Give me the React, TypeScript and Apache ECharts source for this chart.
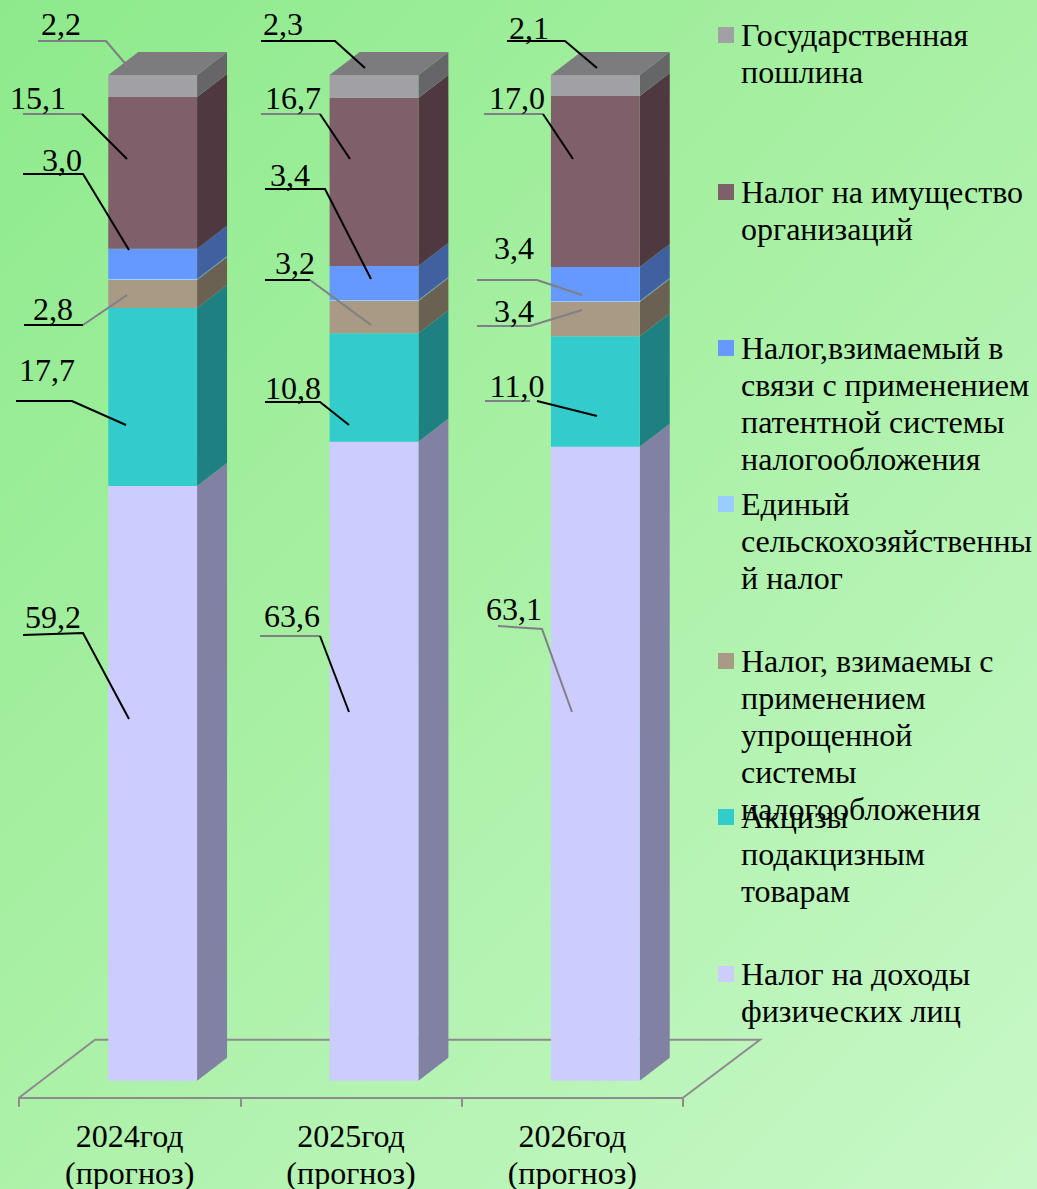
import React, { useEffect, useRef } from "react";
import * as echarts from "echarts";

const FONT = '"Liberation Serif", "Times New Roman", serif';
const FONT_SIZE = 32;
const LINE = 37;

const categories = ["2024год\n(прогноз)", "2025год\n(прогноз)", "2026год\n(прогноз)"];

// Stack order: bottom to top
const ndfl = [59.2, 63.6, 63.1];
const akcizy = [17.7, 10.8, 11.0];
const usn = [2.8, 3.2, 3.4];
const eshn = [0.1, 0.1, 0.1];
const patent = [3.0, 3.4, 3.4];
const imushchestvo = [15.1, 16.7, 17.0];
const poshlina = [2.2, 2.3, 2.1];

const stackSeries = [
  { name: "Налог на доходы физических лиц", lines: ["Налог на доходы", "физических лиц"], values: ndfl, front: "#CCCCFF", side: "#8181A3", legendY: 975 },
  { name: "Акцизы подакцизным товарам", lines: ["Акцизы", "подакцизным", "товарам"], values: akcizy, front: "#33CCCC", side: "#1E8080", legendY: 818 },
  { name: "Налог, взимаемы с применением упрощенной системы налогообложения", lines: ["Налог, взимаемы с", "применением", "упрощенной", "системы", "налогообложения"], values: usn, front: "#A89A85", side: "#6A6153", legendY: 662 },
  { name: "Единый сельскохозяйственный налог", lines: ["Единый", "сельскохозяйственны", "й налог"], values: eshn, front: "#99CCFF", side: "#6A8FC0", legendY: 505 },
  { name: "Налог,взимаемый в связи с применением патентной системы налогообложения", lines: ["Налог,взимаемый в", "связи с применением", "патентной системы", "налогообложения"], values: patent, front: "#6699FF", side: "#4060A0", legendY: 349 },
  { name: "Налог на имущество организаций", lines: ["Налог на имущество", "организаций"], values: imushchestvo, front: "#7F5F6A", side: "#503840", legendY: 193 },
  { name: "Государственная пошлина", lines: ["Государственная", "пошлина"], values: poshlina, front: "#A0A0A5", side: "#666668", legendY: 36 },
];

const TOP_FACE = "#7C7C7E";
const BK = "#000000";
const GR = "#7F7F86";

// Leader annotations: [stack index, category index, text centre x, text centre y, segments]
type Seg = { c: string; p: number[][] };
const leaders: [number, number, number, number, Seg[]][] = [
  [6, 0, 61, 24, [{ c: GR, p: [[38, 41], [106, 41], [129, 68]] }]],
  [5, 0, 38, 98, [{ c: GR, p: [[23, 114], [82, 114]] }, { c: BK, p: [[82, 114], [127, 159]] }]],
  [4, 0, 62, 160, [{ c: BK, p: [[23, 174], [83, 174], [129, 250]] }]],
  [2, 0, 53, 309, [{ c: BK, p: [[24, 325], [83, 325]] }, { c: GR, p: [[83, 325], [127, 295]] }]],
  [1, 0, 47, 370, [{ c: BK, p: [[16, 401], [72, 401], [126, 425]] }]],
  [0, 0, 53, 617, [{ c: BK, p: [[23, 635], [83, 633], [129, 719]] }]],

  [6, 1, 283, 24, [{ c: BK, p: [[261, 41], [335, 41], [365, 68]] }]],
  [5, 1, 293, 98, [{ c: GR, p: [[261, 114], [320, 114]] }, { c: BK, p: [[320, 114], [350, 159]] }]],
  [4, 1, 290, 175, [{ c: BK, p: [[265, 189], [325, 189], [371, 279]] }]],
  [2, 1, 295, 263, [{ c: BK, p: [[265, 280], [310, 280]] }, { c: GR, p: [[310, 280], [371, 325]] }]],
  [1, 1, 293, 388, [{ c: BK, p: [[265, 402], [320, 402], [349, 425]] }]],
  [0, 1, 292, 616, [{ c: GR, p: [[260, 636], [320, 636]] }, { c: BK, p: [[320, 636], [349, 712]] }]],

  [6, 2, 529, 28, [{ c: BK, p: [[507, 41], [565, 41], [597, 68]] }]],
  [5, 2, 517, 98, [{ c: GR, p: [[484, 114], [543, 114]] }, { c: BK, p: [[543, 114], [573, 159]] }]],
  [4, 2, 514, 248, [{ c: GR, p: [[477, 280], [537, 280], [582, 295]] }]],
  [2, 2, 514, 311, [{ c: GR, p: [[477, 326], [530, 326], [582, 310]] }]],
  [1, 2, 517, 386, [{ c: GR, p: [[485, 401], [530, 401]] }, { c: BK, p: [[537, 401], [597, 416]] }]],
  [0, 2, 514, 609, [{ c: GR, p: [[498, 626], [542, 629], [572, 712]] }]],
];

const DEPTH_X = 30;
const DEPTH_Y = 23;
const BAR_SHIFT = 21.4;
const BAR_WIDTH = 88.8;
const AXIS_OFFSET = 17;

const totals = categories.map((_, c) => stackSeries.reduce((s, d) => s + d.values[c], 0));

function faceSeries(si: number) {
  const s = stackSeries[si];
  const data = categories.map((_, c) => {
    const below = stackSeries.slice(0, si).reduce((a, d) => a + d.values[c], 0);
    const k = 100 / totals[c];
    return [c, (below + s.values[c]) * k, below * k];
  });
  return {
    type: "custom",
    name: s.name,
    silent: true,
    z: 3,
    itemStyle: { color: s.front },
    encode: { x: 0, y: [1, 2] },
    data,
    renderItem: (_p: any, api: any) => {
      const c = api.value(0);
      const top = api.coord([c, api.value(1)]);
      const bot = api.coord([c, api.value(2)]);
      const L = top[0] - BAR_SHIFT;
      const R = L + BAR_WIDTH;
      const children: any[] = [
        {
          type: "polygon",
          shape: { points: [[R, bot[1]], [R + DEPTH_X, bot[1] - DEPTH_Y], [R + DEPTH_X, top[1] - DEPTH_Y], [R, top[1]]] },
          style: { fill: s.side },
        },
        {
          type: "rect",
          shape: { x: L, y: top[1], width: BAR_WIDTH, height: bot[1] - top[1] },
          style: { fill: s.front },
        },
      ];
      if (si === stackSeries.length - 1) {
        children.push({
          type: "polygon",
          shape: { points: [[L, top[1]], [L + DEPTH_X, top[1] - DEPTH_Y], [R + DEPTH_X, top[1] - DEPTH_Y], [R, top[1]]] },
          style: { fill: TOP_FACE },
        });
      }
      return { type: "group", children };
    },
  };
}

const floorSeries = {
  type: "custom",
  name: "floor",
  silent: true,
  z: 1,
  encode: { x: 0, y: 1 },
  data: [[0, 0]],
  renderItem: (p: any) => {
    const g = p.coordSys;
    const y = g.y + g.height + AXIS_OFFSET;
    return {
      type: "polyline",
      shape: { points: [[g.x, y], [g.x + 76, y - 58], [g.x + g.width + 77, y - 58], [g.x + g.width, y]] },
      style: { stroke: "#8E8A90", lineWidth: 2, fill: "none" },
    };
  },
};

const labelSeries = {
  type: "custom",
  name: "labels",
  silent: true,
  z: 10,
  encode: { x: 0, y: 1 },
  data: leaders.map(([si, c]) => [c, stackSeries[si].values[c]]),
  renderItem: (p: any, api: any) => {
    const [, , tx, ty, segs] = leaders[p.dataIndex];
    const children: any[] = segs.map((seg) => ({
      type: "polyline",
      shape: { points: seg.p },
      style: { stroke: seg.c, lineWidth: 2, fill: "none" },
    }));
    children.push({
      type: "text",
      style: {
        text: Number(api.value(1)).toFixed(1).replace(".", ","),
        x: tx,
        y: ty,
        align: "center",
        verticalAlign: "middle",
        fill: "#000",
        font: `${FONT_SIZE}px ${FONT}`,
      },
    });
    return { type: "group", children };
  },
};

export default function App() {
  const ref = useRef<HTMLDivElement>(null);
  useEffect(() => {
    const chart = echarts.init(ref.current!, undefined, { renderer: "svg" });
    chart.setOption({
      animation: false,
      tooltip: { show: false },
      grid: { left: 19, right: 354, top: 75, bottom: 108.3, containLabel: false, outerBoundsMode: "none" },
      xAxis: {
        type: "category",
        data: categories,
        offset: AXIS_OFFSET,
        axisLine: { onZero: false, lineStyle: { color: "#8E8A90", width: 2 } },
        axisTick: { show: true, length: 9, lineStyle: { color: "#8E8A90", width: 2 } },
        axisLabel: { color: "#000", fontFamily: FONT, fontSize: FONT_SIZE, lineHeight: LINE, margin: 20, interval: 0 },
        splitLine: { show: false },
      },
      yAxis: { type: "value", min: 0, max: 100, show: false, splitLine: { show: false } },
      legend: stackSeries.map((s) => ({
        data: [s.name],
        selectedMode: false,
        orient: "vertical",
        left: 718,
        top: s.legendY - 1 - LINE / 2 - LINE * (s.lines.length - 1),
        icon: "path://M0,0H16V16H0Z M18,16L18,16Z",
        itemWidth: 18,
        itemHeight: 16,
        itemGap: 0,
        padding: 0,
        formatter: () => "\n".repeat(s.lines.length - 1) + s.lines.join("\n"),
        textStyle: {
          color: "#000",
          fontFamily: FONT,
          fontSize: FONT_SIZE,
          lineHeight: LINE,
        },
      })),
      series: [floorSeries, ...stackSeries.map((_, i) => faceSeries(i)), labelSeries],
    });
    return () => chart.dispose();
  }, []);
  return (
    <div
      ref={ref}
      style={{
        position: "absolute",
        left: 0,
        top: 0,
        width: 1037,
        height: 1189,
        background: "linear-gradient(135deg, #8DEA8B 0%, #A8F0A4 45%, #C8F8C8 100%)",
      }}
    />
  );
}
